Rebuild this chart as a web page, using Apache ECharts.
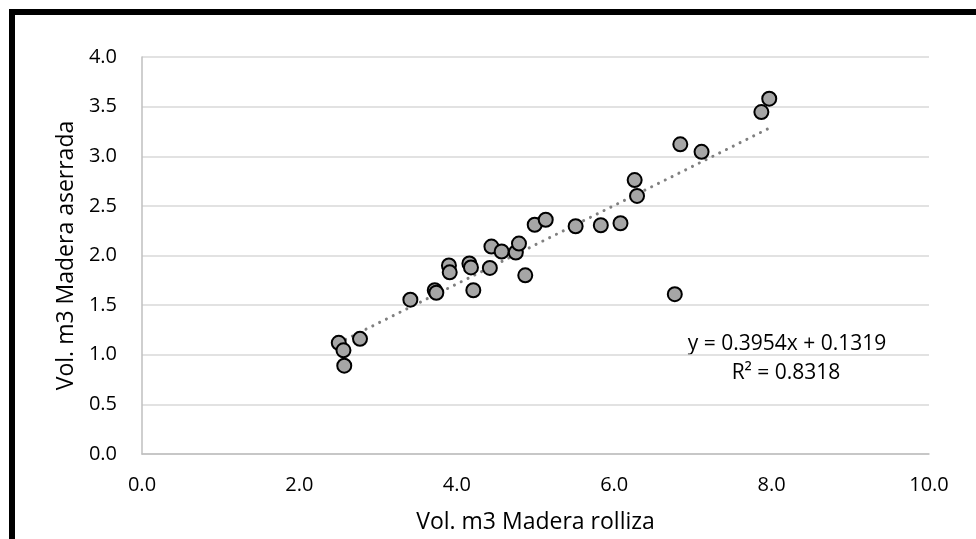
<!DOCTYPE html>
<html>
<head>
<meta charset="utf-8">
<script src="https://cdn.jsdelivr.net/npm/echarts@6/dist/echarts.min.js"></script>
<style>html,body{margin:0;padding:0;background:#fff}#c{width:976px;height:539px}</style>
</head>
<body>
<div id="c"></div>
<script>
// Data
const xVals = [2.50, 2.56, 2.57, 2.77, 3.41, 3.72, 3.74, 3.90, 3.91, 4.16, 4.18, 4.21, 4.42, 4.44, 4.57,
               4.75, 4.79, 4.87, 4.99, 5.13, 5.51, 5.83, 6.08, 6.26, 6.29, 6.84, 7.11, 6.77, 7.87, 7.97];
const yVals = [1.12, 1.045, 0.89, 1.16, 1.555, 1.65, 1.625, 1.90, 1.83, 1.92, 1.88, 1.65, 1.875, 2.09, 2.04,
               2.03, 2.12, 1.80, 2.31, 2.36, 2.295, 2.305, 2.325, 2.76, 2.60, 3.12, 3.045, 1.61, 3.445, 3.58];
const xTicks = ['0.0', '2.0', '4.0', '6.0', '8.0', '10.0'];
const yTicks = ['0.0', '0.5', '1.0', '1.5', '2.0', '2.5', '3.0', '3.5', '4.0'];
const trendSlope = 0.3954;
const trendIntercept = 0.1319;
const rSquared = 0.8318;
const xTitle = 'Vol. m3 Madera rolliza';
const yTitle = 'Vol. m3 Madera aserrada';

const points = xVals.map((x, i) => [x, yVals[i]]);
const xMin = Math.min(...xVals), xMax = Math.max(...xVals);
const trend = [[xMin, trendSlope * xMin + trendIntercept], [xMax, trendSlope * xMax + trendIntercept]];

const FONT = 'Open Sans';
const chart = echarts.init(document.getElementById('c'));
chart.setOption({
  animation: false,
  textStyle: { fontFamily: FONT },
  grid: { left: 142, right: 47, top: 57, bottom: 80, containLabel: false },
  xAxis: {
    type: 'value', min: 0, max: 10, interval: 2,
    name: xTitle, nameLocation: 'middle', nameGap: 57,
    nameTextStyle: { fontSize: 23, color: '#000', fontFamily: FONT },
    axisLine: { show: true, onZero: false, lineStyle: { color: '#BFBFBF', width: 1.5 } },
    axisTick: { show: false },
    splitLine: { show: false },
    axisLabel: { fontSize: 20, color: '#000', margin: 21, fontFamily: FONT,
      formatter: v => xTicks[Math.round(v / 2)] }
  },
  yAxis: {
    type: 'value', min: 0, max: 4, interval: 0.5,
    name: yTitle, nameLocation: 'middle', nameGap: 63, nameRotate: 90,
    nameTextStyle: { fontSize: 23, color: '#000', fontFamily: FONT },
    axisLine: { show: true, lineStyle: { color: '#BFBFBF', width: 1.5 } },
    axisTick: { show: false },
    splitLine: { show: true, lineStyle: { color: '#D9D9D9', width: 1.5 } },
    axisLabel: { fontSize: 20, color: '#000', margin: 25, fontFamily: FONT,
      formatter: v => yTicks[Math.round(v * 2)] }
  },
  series: [
    {
      type: 'line', data: trend, symbol: 'none', z: 1,
      lineStyle: { color: '#808080', width: 3, type: [0.1, 7.5], cap: 'round' }
    },
    {
      type: 'scatter', data: points, symbol: 'circle', symbolSize: 14, z: 2,
      itemStyle: { color: '#A6A6A6', borderColor: '#000', borderWidth: 2, opacity: 1 }
    }
  ],
  graphic: [
    { type: 'rect', left: 9, top: 9, shape: { width: 1020, height: 620 },
      style: { fill: 'none', stroke: '#000', lineWidth: 6 }, silent: true },
    { type: 'text', x: 787, y: 344,
      style: { text: 'y = ' + trendSlope.toFixed(4) + 'x + ' + trendIntercept.toFixed(4),
        font: '21px "Open Sans"', fill: '#000', align: 'center', verticalAlign: 'middle' } },
    { type: 'text', x: 786, y: 373,
      style: { text: 'R² = ' + rSquared.toFixed(4),
        font: '21px "Open Sans"', fill: '#000', align: 'center', verticalAlign: 'middle' } }
  ]
});
</script>
</body>
</html>
